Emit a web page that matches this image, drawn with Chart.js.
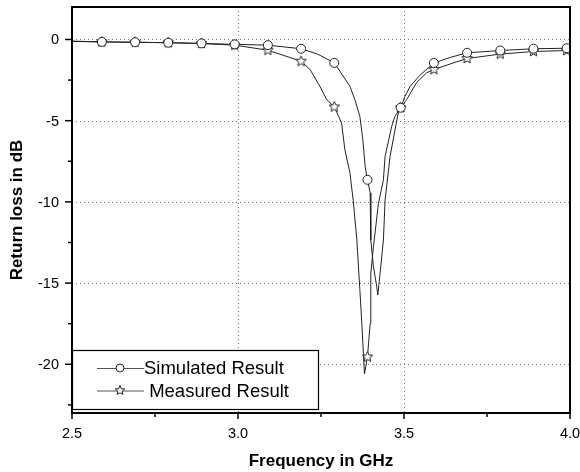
<!DOCTYPE html>
<html>
<head>
<meta charset="utf-8">
<script src="https://cdn.jsdelivr.net/npm/chart.js@4.4.1/dist/chart.umd.min.js"></script>
<style>
  html, body { margin: 0; padding: 0; background: #fff; }
</style>
</head>
<body>
<canvas id="chart" width="580" height="472"></canvas>
<script>
  // values
  const simFreq = [2.50, 2.59, 2.69, 2.79, 2.89, 2.99, 3.09, 3.19, 3.24, 3.29, 3.307, 3.337, 3.352, 3.367, 3.376, 3.383, 3.39, 3.398, 3.40, 3.408, 3.418, 3.421, 3.428, 3.438, 3.443, 3.458, 3.473, 3.483, 3.49, 3.503, 3.518, 3.548, 3.59, 3.64, 3.69, 3.79, 3.89, 3.99, 4.00];
  const simLoss = [-0.10, -0.15, -0.17, -0.20, -0.24, -0.30, -0.35, -0.57, -0.90, -1.44, -1.96, -2.88, -3.70, -4.73, -6.17, -7.82, -8.64, -9.44, -12.35, -13.99, -15.23, -15.74, -14.4, -12.35, -9.9, -7.2, -5.56, -4.5, -4.2, -3.5, -2.9, -2.2, -1.45, -1.10, -0.82, -0.68, -0.57, -0.54, -0.53];

  const measFreq = [2.50, 2.59, 2.69, 2.79, 2.89, 2.99, 3.09, 3.19, 3.217, 3.247, 3.267, 3.29, 3.312, 3.322, 3.337, 3.347, 3.358, 3.367, 3.373, 3.381, 3.39, 3.398, 3.40, 3.408, 3.423, 3.438, 3.443, 3.463, 3.473, 3.49, 3.508, 3.538, 3.568, 3.59, 3.64, 3.69, 3.79, 3.89, 3.99, 4.00];
  const measLoss = [-0.12, -0.15, -0.17, -0.20, -0.25, -0.35, -0.66, -1.34, -1.85, -2.9, -3.7, -4.15, -5.14, -6.8, -8.2, -9.9, -12.35, -15.4, -17.5, -20.6, -19.55, -17.5, -14.4, -12.76, -10.1, -8.64, -7.2, -5.35, -4.73, -4.2, -3.7, -2.65, -2.05, -1.85, -1.5, -1.17, -0.90, -0.74, -0.68, -0.67];

  const markerFreq = [2.59, 2.69, 2.79, 2.89, 2.99, 3.09, 3.19, 3.29, 3.39, 3.49, 3.59, 3.69, 3.79, 3.89, 3.99];

  const xMajor = [2.5, 3.0, 3.5, 4.0];
  const xMinor = [2.75, 3.25, 3.75];
  const yMajor = [0, -5, -10, -15, -20];
  const yMinor = [-2.5, -7.5, -12.5, -17.5, -22.5];

  const seriesNames = ["Simulated Result", " Measured Result"];
  const xTitle = "Frequency in GHz";
  const yTitle = "Return loss in dB";

  const FONT = "Arial, 'Liberation Sans', sans-serif";
  const LINE = "#222";

  function toPoints(xs, ys) {
    return xs.map((x, i) => ({ x: x, y: ys[i] }));
  }

  function isMarker(x) {
    return markerFreq.some((f) => Math.abs(f - x) < 1e-6);
  }

  function drawStar(g, cx, cy, r) {
    const inner = r * 0.45;
    g.beginPath();
    for (let i = 0; i < 10; i++) {
      const rad = i % 2 === 0 ? r : inner;
      const a = -Math.PI / 2 + (i * Math.PI) / 5;
      const px = cx + rad * Math.cos(a);
      const py = cy + rad * Math.sin(a);
      if (i === 0) g.moveTo(px, py);
      else g.lineTo(px, py);
    }
    g.closePath();
    g.fillStyle = "#fff";
    g.fill();
    g.strokeStyle = LINE;
    g.lineWidth = 1;
    g.stroke();
  }

  function makeStar(size) {
    const c = document.createElement("canvas");
    c.width = size;
    c.height = size;
    drawStar(c.getContext("2d"), size / 2, size / 2, size / 2 - 1);
    return c;
  }

  const starImg = makeStar(13);

  // dotted grid, frame, tick marks, labels, titles and the boxed legend
  const decor = {
    id: "decor",
    beforeDatasetsDraw(chart) {
      const { ctx, chartArea: a, scales } = chart;
      ctx.save();
      ctx.strokeStyle = "#777";
      ctx.lineWidth = 1;
      ctx.setLineDash([1, 3]);
      xMajor.forEach((v) => {
        if (v === 2.5 || v === 4.0) return;
        const x = Math.round(scales.x.getPixelForValue(v)) + 0.5;
        ctx.beginPath();
        ctx.moveTo(x, a.top);
        ctx.lineTo(x, a.bottom);
        ctx.stroke();
      });
      yMajor.forEach((v) => {
        const y = Math.round(scales.y.getPixelForValue(v)) + 0.5;
        ctx.beginPath();
        ctx.moveTo(a.left, y);
        ctx.lineTo(a.right, y);
        ctx.stroke();
      });
      ctx.restore();
    },
    afterDatasetsDraw(chart) {
      const { ctx, chartArea: a, scales } = chart;
      ctx.save();
      ctx.strokeStyle = "#000";
      ctx.lineWidth = 2;
      ctx.strokeRect(a.left, a.top, a.right - a.left, a.bottom - a.top);

      ctx.lineWidth = 1.5;
      const seg = (x1, y1, x2, y2) => {
        ctx.beginPath();
        ctx.moveTo(x1, y1);
        ctx.lineTo(x2, y2);
        ctx.stroke();
      };
      xMajor.forEach((v) => {
        const x = scales.x.getPixelForValue(v);
        seg(x, a.bottom, x, a.bottom + 6);
      });
      xMinor.forEach((v) => {
        const x = scales.x.getPixelForValue(v);
        seg(x, a.bottom, x, a.bottom + 4);
      });
      yMajor.forEach((v) => {
        const y = scales.y.getPixelForValue(v);
        seg(a.left - 7, y, a.left, y);
      });
      yMinor.forEach((v) => {
        const y = scales.y.getPixelForValue(v);
        seg(a.left - 4, y, a.left, y);
      });

      // tick labels
      ctx.fillStyle = "#000";
      ctx.font = "14.5px " + FONT;
      ctx.textBaseline = "middle";
      ctx.textAlign = "right";
      yMajor.forEach((v) => {
        ctx.fillText(String(v), a.left - 13, scales.y.getPixelForValue(v) + 1);
      });
      ctx.textAlign = "center";
      xMajor.forEach((v) => {
        ctx.fillText(v.toFixed(1), scales.x.getPixelForValue(v), a.bottom + 21);
      });

      // axis titles
      ctx.font = "bold 17px " + FONT;
      ctx.fillText(xTitle, (a.left + a.right) / 2, a.bottom + 48);
      ctx.save();
      ctx.translate(17, (a.top + a.bottom) / 2);
      ctx.rotate(-Math.PI / 2);
      ctx.fillText(yTitle, 0, 0);
      ctx.restore();

      // legend box
      const bx = a.left, by = 350, bw = 246, bh = 59;
      ctx.fillStyle = "#fff";
      ctx.fillRect(bx, by, bw, bh);
      ctx.lineWidth = 1.2;
      ctx.strokeStyle = "#000";
      ctx.strokeRect(bx + 0.5, by + 0.5, bw, bh);

      const rows = [368, 390.5];
      ctx.font = "18.5px " + FONT;
      ctx.textBaseline = "middle";
      ctx.textAlign = "left";
      rows.forEach((ry, i) => {
        ctx.strokeStyle = "#555";
        ctx.lineWidth = 1;
        seg(97, ry + 0.5, 144, ry + 0.5);
        if (i === 0) {
          ctx.beginPath();
          ctx.arc(120, ry, 4, 0, Math.PI * 2);
          ctx.fillStyle = "#fff";
          ctx.fill();
          ctx.strokeStyle = LINE;
          ctx.stroke();
        } else {
          drawStar(ctx, 120, ry, 5);
        }
        ctx.fillStyle = "#000";
        ctx.fillText(seriesNames[i], 144, ry + 1);
      });
      ctx.restore();
    },
  };

  new Chart(document.getElementById("chart"), {
    type: "line",
    data: {
      datasets: [
        {
          label: seriesNames[0],
          data: toPoints(simFreq, simLoss),
          borderColor: LINE,
          borderWidth: 1,
          backgroundColor: "#fff",
          pointStyle: "circle",
          pointRadius: (c) => (isMarker(c.raw.x) ? 4.5 : 0),
          pointBorderColor: LINE,
          pointBorderWidth: 1,
          pointBackgroundColor: "#fff",
          tension: 0,
        },
        {
          label: seriesNames[1],
          data: toPoints(measFreq, measLoss),
          borderColor: LINE,
          borderWidth: 1,
          pointStyle: (c) => (isMarker(c.raw.x) ? starImg : false),
          pointRadius: (c) => (isMarker(c.raw.x) ? 6 : 0),
          tension: 0,
        },
      ],
    },
    options: {
      responsive: false,
      animation: false,
      events: [],
      layout: { autoPadding: false, padding: { top: 7, right: 10, left: 0, bottom: 0 } },
      plugins: { legend: { display: false }, tooltip: { enabled: false } },
      scales: {
        x: {
          type: "linear",
          min: 2.5,
          max: 4.0,
          afterFit: (s) => { s.height = 59; },
          grid: { display: false, drawTicks: false },
          border: { display: false },
          ticks: { display: false },
        },
        y: {
          min: -23,
          max: 2,
          afterFit: (s) => { s.width = 72; },
          grid: { display: false, drawTicks: false },
          border: { display: false },
          ticks: { display: false },
        },
      },
    },
    plugins: [decor],
  });
</script>
</body>
</html>
